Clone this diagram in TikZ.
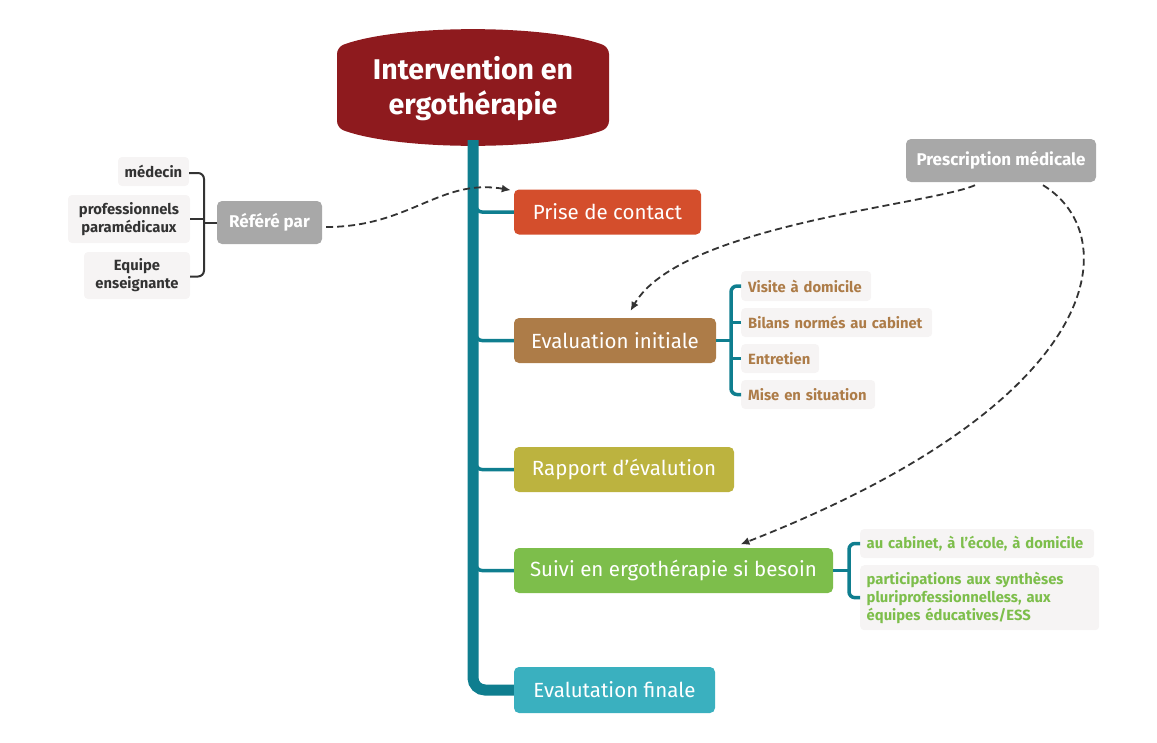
\documentclass[tikz,border=0pt]{standalone}
\usepackage{fontspec}
\setmainfont{Fira Sans}
\usetikzlibrary{arrows.meta}
\definecolor{ctitle}{HTML}{8E1A1E}
\definecolor{cteal}{HTML}{0F7E8F}
\definecolor{cprise}{HTML}{D44E2C}
\definecolor{ceval}{HTML}{AD7C48}
\definecolor{crapport}{HTML}{BCB33F}
\definecolor{csuivi}{HTML}{7DBE4B}
\definecolor{cfinal}{HTML}{3AB0BF}
\definecolor{cgrey}{HTML}{A8A8A8}
\definecolor{csub}{HTML}{F6F4F4}
\definecolor{cdark}{HTML}{333333}
\begin{document}
\begin{tikzpicture}[x=1pt,y=-1pt,
  mainbox/.style={rounded corners=5pt, text=white, font=\fontsize{20.5}{24}\selectfont, minimum height=45pt, inner sep=0pt},
  greybox/.style={fill=cgrey, rounded corners=5pt, text=white, font=\bfseries\fontsize{17}{20}\selectfont, minimum height=43pt, inner sep=0pt},
  subbox/.style={fill=csub, rounded corners=4pt, font=\bfseries\fontsize{14.8}{18}\selectfont, minimum height=29pt, inner sep=0pt},
  subitem/.style={subbox, anchor=west, inner xsep=7pt, align=left},
  leftbox/.style={subbox, text=cdark, align=center},
  trunkline/.style={draw=cteal, line width=11pt, rounded corners=12pt},
  branch/.style={draw=cteal, line width=3.5pt, rounded corners=6pt},
  lbrack/.style={draw=cdark, line width=2pt, rounded corners=6pt},
  dashconn/.style={draw=cdark, line width=1.8pt, dash pattern=on 7pt off 4pt, -{Latex[length=9pt,width=8pt]}, shorten >=1pt}
]
\useasboundingbox (0,0) rectangle (1157,742);

% title shape
\fill[ctitle, rounded corners=7pt] (337,88) -- (337,128) .. controls (400,151) and (546,151) .. (609,128) -- (609,47) .. controls (546,24) and (400,24) .. (337,47) -- cycle;
\node[text=white, font=\bfseries\fontsize{28.5}{35}\selectfont, align=center] (title) at (473,89) {Intervention en\\ergothérapie};

% main nodes
\node[mainbox, fill=cprise, minimum width=187pt] (prise) at (607.5,212) {Prise de contact};
\node[mainbox, fill=ceval, minimum width=202pt] (evalinit) at (615,340.5) {Evaluation initiale};
\node[mainbox, fill=crapport, minimum width=220pt] (rapport) at (624,469.5) {Rapport d'évalution};
\node[mainbox, fill=csuivi, minimum width=319pt] (suivi) at (673.5,570.5) {Suivi en ergothérapie si besoin};
\node[mainbox, fill=cfinal, minimum width=201pt, minimum height=46pt] (final) at (614.5,690) {Evalutation finale};

% trunk
\coordinate (trunktop) at (473,140);
\path[trunkline] (trunktop) |- (final.west);
\path[branch] (476,199) |- (prise.west);
\path[branch] (476,327) |- (evalinit.west);
\path[branch] (476,456) |- (rapport.west);
\path[branch] (476,557) |- (suivi.west);

% grey nodes
\node[greybox, minimum width=105pt] (refere) at (269.5,222.5) {Référé par};
\node[greybox, minimum width=190pt] (presc) at (1001,160.5) {Prescription médicale};

% evaluation sub items
\node[subitem, text=ceval, text width=116pt, minimum height=30pt] (visite) at (741,286) {Visite à domicile};
\node[subitem, text=ceval, text width=177pt] (bilans) at (741,322.5) {Bilans normés au cabinet};
\node[subitem, text=ceval, text width=64pt] (entretien) at (741,358.5) {Entretien};
\node[subitem, text=ceval, text width=120pt] (mise) at (741,394.5) {Mise en situation};
\path[branch] (evalinit.east) -- (731,340.5);
\path[branch] (visite.west) -| (731,340) |- (mise.west);
\path[branch] (bilans.west) -- (731,322.5);
\path[branch] (entretien.west) -- (731,358.5);

% suivi sub items
\node[subitem, text=csuivi, text width=221pt, inner xsep=6.5pt] (aucab) at (860,543.5) {au cabinet, à l'école, à domicile};
\node[subbox, text=csuivi, anchor=north west, text width=226pt, inner sep=6.5pt, align=left, minimum height=65pt] (particip) at (860,565) {participations aux synthèses\\pluriprofessionnelless, aux\\équipes éducatives/ESS};
\path[branch] (suivi.east) -- (849,570.5);
\path[branch] (aucab.west) -| (849,570) |- (particip.west);

% left items
\node[leftbox, minimum width=71pt] (medecin) at (153.5,171.5) {médecin};
\node[leftbox, minimum width=122pt, minimum height=48pt] (prof) at (129,219) {professionnels\\paramédicaux};
\node[leftbox, minimum width=106pt, minimum height=47pt] (equipe) at (137,275.5) {Equipe\\enseignante};
\path[lbrack] ([yshift=-1.5pt]medecin.east) -| (204,222.5) |- ([yshift=-1pt]equipe.east);
\path[lbrack] (prof.east) -- (204,219);
\path[lbrack] (204,222.5) -- (refere.west);

% dashed connectors
\draw[dashconn] ([shift={(4,4.5)}]refere.east) .. controls (410,227) and (440,178) .. ([shift={(-2,1)}]prise.north west);
\draw[dashconn] ([shift={(-26,3)}]presc.south) .. controls (930,205) and (680,225) .. ([shift={(15,-6)}]evalinit.north);
\draw[dashconn] ([shift={(42,3)}]presc.south) .. controls (1125,235) and (1110,400) .. ([shift={(66,-3)}]suivi.north);
\end{tikzpicture}
\end{document}
